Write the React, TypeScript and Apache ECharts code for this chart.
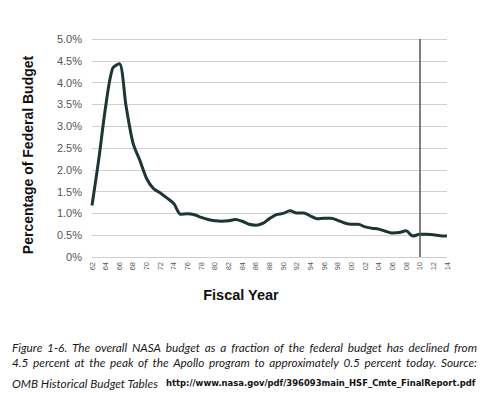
import React, { useEffect, useRef } from "react";
import * as echarts from "echarts";

const years: string[] = [
  "1962", "1963", "1964", "1965", "1966", "1967", "1968", "1969",
  "1970", "1971", "1972", "1973", "1974", "1975", "1976", "1977", "1978", "1979",
  "1980", "1981", "1982", "1983", "1984", "1985", "1986", "1987", "1988", "1989",
  "1990", "1991", "1992", "1993", "1994", "1995", "1996", "1997", "1998", "1999",
  "2000", "2001", "2002", "2003", "2004", "2005", "2006", "2007", "2008", "2009",
  "2010", "2011", "2012", "2013", "2014",
];

const budgetShare: number[] = [
  1.18, 2.25, 3.45, 4.32, 4.43, 3.45, 2.62, 2.22,
  1.8, 1.57, 1.47, 1.35, 1.22, 0.98, 0.99, 0.97, 0.91, 0.86,
  0.83, 0.82, 0.83, 0.86, 0.82, 0.75, 0.73, 0.77, 0.88, 0.97,
  1.0, 1.06, 1.01, 1.01, 0.94, 0.88, 0.89, 0.89, 0.84, 0.78,
  0.75, 0.75, 0.69, 0.66, 0.64, 0.59, 0.55, 0.56, 0.6, 0.48,
  0.52, 0.52, 0.51, 0.49, 0.48,
];

const markYear = "2010";

const yTitle = "Percentage of Federal Budget";
const xTitle = "Fiscal Year";

const captionLines: string[] = [
  "Figure 1-6. The overall NASA budget as a fraction of the federal budget has declined from",
  "4.5 percent at the peak of the Apollo program to approximately 0.5 percent today. Source:",
];
const captionLast = "OMB Historical Budget Tables";
const captionUrl = "http://www.nasa.gov/pdf/396093main_HSF_Cmte_FinalReport.pdf";

const CAPTION_FONT = "Lato, 'Open Sans', sans-serif";
const URL_FONT = "'DejaVu Sans', Verdana, sans-serif";

export default function App() {
  const ref = useRef<HTMLDivElement>(null);

  useEffect(() => {
    if (!ref.current) return;
    const chart = echarts.init(ref.current, undefined, { renderer: "svg" });

    const canvas = document.createElement("canvas");
    const ctx = canvas.getContext("2d")!;
    const capSize = 11.8;
    const measure = (t: string, font: string) => {
      ctx.font = font;
      return ctx.measureText(t).width;
    };
    const capFontStr = `italic ${capSize}px ${CAPTION_FONT}`;

    const graphics: any[] = [];
    const left = 12;
    const right = 477;
    const lineYs = [347, 362];
    captionLines.forEach((line, li) => {
      const words = line.split(" ");
      const widths = words.map((w) => measure(w, capFontStr));
      const total = widths.reduce((a, b) => a + b, 0);
      const gap = (right - left - total) / (words.length - 1);
      let x = left;
      words.forEach((w, i) => {
        graphics.push({
          type: "text",
          x,
          y: lineYs[li],
          style: {
            text: w,
            font: capFontStr,
            fill: "#1a1a1a",
            verticalAlign: "middle",
            align: "left",
          },
        });
        x += widths[i] + gap;
      });
    });
    graphics.push({
      type: "text",
      x: left,
      y: 383,
      style: {
        text: captionLast,
        font: capFontStr,
        fill: "#1a1a1a",
        verticalAlign: "middle",
        align: "left",
      },
    });
    const urlBase = 9;
    const urlW = measure(captionUrl, `bold ${urlBase}px ${URL_FONT}`);
    const urlSize = (urlBase * 310) / urlW;
    graphics.push({
      type: "text",
      x: 166,
      y: 383,
      style: {
        text: captionUrl,
        font: `bold ${urlSize.toFixed(2)}px ${URL_FONT}`,
        fill: "#111",
        verticalAlign: "middle",
        align: "left",
      },
    });
    graphics.push({
      type: "text",
      x: 28,
      y: 155,
      rotation: Math.PI / 2,
      style: {
        text: yTitle,
        font: "bold 14px 'Liberation Sans', Arial, sans-serif",
        fill: "#111",
        align: "center",
        verticalAlign: "middle",
      },
    });
    graphics.push({
      type: "text",
      x: 241,
      y: 295,
      style: {
        text: xTitle,
        font: "bold 14.5px 'Liberation Sans', Arial, sans-serif",
        fill: "#111",
        align: "center",
        verticalAlign: "middle",
      },
    });

    chart.setOption({
      animation: false,
      backgroundColor: "#ffffff",
      grid: { left: 92, right: 43, top: 39, bottom: 136, containLabel: false },
      xAxis: {
        type: "category",
        data: years,
        boundaryGap: false,
        axisLine: { show: false },
        axisTick: { show: false },
        axisLabel: {
          interval: 1,
          rotate: 90,
          fontSize: 7.5,
          color: "#555",
          margin: 5,
          fontFamily: "'Liberation Sans', Arial, sans-serif",
          formatter: (v: string) => v.slice(2),
        },
        splitLine: { show: false },
      },
      yAxis: {
        type: "value",
        min: 0,
        max: 5,
        interval: 0.5,
        axisLine: { show: false },
        axisTick: { show: false },
        axisLabel: {
          fontSize: 11,
          color: "#555",
          margin: 10,
          fontFamily: "'Liberation Sans', Arial, sans-serif",
          formatter: (v: number) => (v === 0 ? "0%" : v.toFixed(1) + "%"),
        },
        splitLine: { show: true, lineStyle: { color: "#cfcfcf", width: 1 } },
      },
      series: [
        {
          type: "line",
          data: budgetShare,
          smooth: 0.3,
          symbol: "none",
          lineStyle: { color: "#1c3535", width: 3 },
          markLine: {
            silent: true,
            symbol: "none",
            label: { show: false },
            lineStyle: { color: "#555", width: 1.5, type: "solid" },
            data: [{ xAxis: markYear }],
          },
        },
      ],
      graphic: graphics,
    });

    return () => chart.dispose();
  }, []);

  return (
    <div
      ref={ref}
      style={{ position: "fixed", left: 0, top: 0, width: 490, height: 393, background: "#fff" }}
    />
  );
}
